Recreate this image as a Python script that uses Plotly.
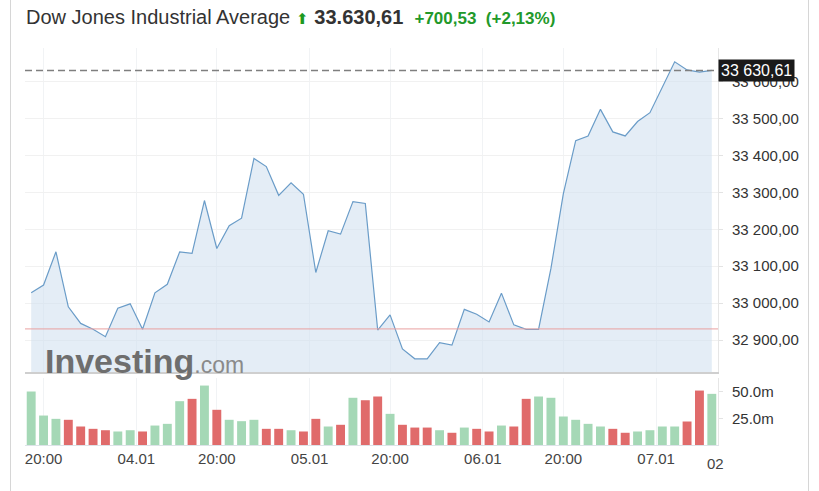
import plotly.graph_objects as go

# ---- data ----
prices = [33028, 33049, 33139, 32990, 32945, 32929, 32909, 32986, 32998, 32929,
          33028, 33051, 33139, 33135, 33278, 33148, 33210, 33230, 33392, 33370,
          33292, 33326, 33295, 33083, 33196, 33187, 33275, 33270, 32927, 32968,
          32876, 32849, 32849, 32893, 32886, 32983, 32970, 32949, 33027, 32941,
          32929, 32929, 33094, 33296, 33440, 33453, 33525, 33464, 33453, 33492,
          33516, 33585, 33654, 33632, 33626, 33630.61]
volumes_m = [50.3, 27.7, 24.6, 23.7, 17.4, 15.2, 13.9, 12.7, 13.9, 12.7,
             18.3, 19.9, 41.2, 43.4, 55.9, 33.1, 23.7, 22.4, 23.7,
             15.2, 15.2, 13.9, 12.7, 24.6, 17.4, 19.0, 44.4, 42.1, 45.6,
             29.3, 19.0, 16.4, 16.4, 13.9, 11.5, 16.4, 15.2, 12.7,
             18.3, 17.4, 43.4, 45.6, 44.4, 26.8, 23.7, 19.9, 17.4, 15.2,
             11.5, 12.7, 13.9, 17.4, 17.4, 22.1, 51.2, 48.1]
direction = ["up", "up", "up", "down", "down", "down", "down", "up", "up", "down",
             "up", "up", "up", "down", "up", "down", "up", "up", "up",
             "down", "down", "up", "down", "down", "up", "down", "up", "down", "down",
             "up", "down", "down", "down", "up", "down", "up", "down", "down",
             "up", "down", "down", "up", "up", "up", "up", "up", "up", "down",
             "down", "up", "up", "up", "up", "down", "down", "up"]
x_tick_pos = [1, 8.5, 15, 22.5, 29, 36.5, 43, 50.5]
x_tick_text = ["20:00", "04.01", "20:00", "05.01", "20:00", "06.01", "20:00", "07.01"]
y_tick_vals = [32900, 33000, 33100, 33200, 33300, 33400, 33500, 33600]
y_tick_text = ["32 900,00", "33 000,00", "33 100,00", "33 200,00", "33 300,00",
               "33 400,00", "33 500,00", "33 600,00"]
vol_tick_vals = [25e6, 50e6]
vol_tick_text = ["25.0m", "50.0m"]
last_price = 33630.61
prev_close = 32930.08

idx = list(range(len(prices)))
volumes = [v * 1e6 for v in volumes_m]
bar_colors = ["#a5d8b6" if d == "up" else "#e06b6b" for d in direction]

FONT = "Arial, 'Liberation Sans', sans-serif"

W, H = 819, 491
# plot area in page pixels
PL, PR, PT, PB = 25, 718, 48, 445
L, R, T, B = PL, W - PR, PT, H - PB
ph = PB - PT
pw = PR - PL

def px(xp):
    return (xp - PL) / pw

def py(yp):
    return (PB - yp) / ph

fig = go.Figure()
fig.add_trace(go.Scatter(
    x=idx, y=prices, mode="lines", fill="tozeroy",
    line=dict(color="#6a9cc8", width=1.2), fillcolor="rgba(205,222,238,0.55)",
    xaxis="x", yaxis="y", hoverinfo="skip", showlegend=False))
fig.add_trace(go.Bar(
    x=idx, y=volumes, marker=dict(color=bar_colors, line=dict(width=0)),
    width=0.72, xaxis="x2", yaxis="y2", hoverinfo="skip", showlegend=False))

fig.update_layout(
    width=W, height=H,
    margin=dict(l=L, r=R, t=T, b=B, pad=0),
    paper_bgcolor="white", plot_bgcolor="white",
    font=dict(family=FONT, size=15, color="#333333"),
    xaxis=dict(domain=[0, 1], range=[-0.5, 55.5], anchor="y",
               tickvals=x_tick_pos, showticklabels=False, ticks="",
               showgrid=True, gridcolor="#f1f3f5", gridwidth=1,
               showline=True, linecolor="#cfcfcf", linewidth=2, zeroline=False),
    yaxis=dict(domain=[py(372), 1], range=[32813.3, 33691.3], side="right",
               anchor="x", tickvals=y_tick_vals, ticktext=y_tick_text,
               ticks="outside", ticklen=4, tickcolor="#e3e3e3", ticklabelstandoff=6,
               showgrid=True, gridcolor="#f1f1f1", gridwidth=1,
               showline=True, linecolor="#e6e6e6", linewidth=1, zeroline=False,
               tickfont=dict(size=15, color="#333333")),
    xaxis2=dict(domain=[0, 1], range=[-0.5, 55.5], anchor="y2", matches="x",
                tickvals=x_tick_pos, ticktext=x_tick_text, ticks="",
                showgrid=True, gridcolor="#f1f3f5", gridwidth=1,
                showline=True, linecolor="#dde3e8", linewidth=1, zeroline=False,
                tickfont=dict(size=15, color="#444444")),
    yaxis2=dict(domain=[0, py(378)], range=[0, 63e6], side="right", anchor="x2",
                tickvals=vol_tick_vals, ticktext=vol_tick_text,
                ticks="outside", ticklen=4, tickcolor="#e3e3e3", ticklabelstandoff=6,
                showgrid=False, showline=True, linecolor="#e6e6e6", linewidth=1,
                zeroline=False, tickfont=dict(size=15, color="#333333")),
    bargap=0.27,
)

shapes = [
    dict(type="line", xref="paper", yref="y", x0=0, x1=1, y0=prev_close, y1=prev_close,
         line=dict(color="#e9a0a0", width=1)),
    dict(type="line", xref="paper", yref="y", x0=0, x1=1, y0=last_price, y1=last_price,
         line=dict(color="#7f7f7f", width=1.5, dash="7px,4px")),
    dict(type="line", xref="paper", yref="paper", x0=px(10.5), x1=px(10.5), y0=py(0), y1=py(491),
         line=dict(color="#d6d6d6", width=1)),
    dict(type="line", xref="paper", yref="paper", x0=px(808.5), x1=px(808.5), y0=py(0), y1=py(491),
         line=dict(color="#d6d6d6", width=1)),
]
fig.update_layout(shapes=shapes)

annotations = [
    dict(xref="paper", yref="paper", x=px(24), y=py(17), xanchor="left", yanchor="middle",
         showarrow=False,
         text=("<span style='color:#333333'>Dow Jones Industrial Average</span> "
               "<span style='color:#1e9a1e;font-size:15px'>⬆</span> "
               "<b style='color:#333333'>33.630,61</b>  "
               "<b style='color:#22992a;font-size:17px'>+700,53  (+2,13%)</b>"),
         font=dict(family=FONT, size=20, color="#333333")),
    dict(xref="paper", yref="y", x=1, y=last_price, xanchor="left", yanchor="middle",
         showarrow=False, text="33 630,61", bgcolor="#1a1a1a", borderpad=2,
         font=dict(family=FONT, size=16, color="white")),
    dict(xref="paper", yref="paper", x=px(43), y=py(361), xanchor="left", yanchor="middle",
         showarrow=False,
         text="<b>Investing</b><span style='font-size:23px;color:#8a8a8a'>.com</span>",
         font=dict(family=FONT, size=34, color="#6e6e6e")),
    dict(xref="paper", yref="paper", x=px(705), y=py(463), xanchor="left", yanchor="middle",
         showarrow=False, text="02", font=dict(family=FONT, size=15, color="#444444")),
]
fig.update_layout(annotations=annotations)

fig.write_html("out.html", config={"displayModeBar": False},
               post_script="document.body.style.margin='0';document.body.style.overflow='hidden';")
